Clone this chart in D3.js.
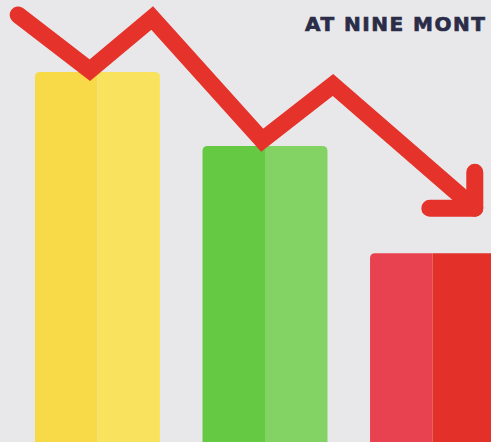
<!DOCTYPE html>
<html>
<head>
<meta charset="utf-8">
<script src="https://cdn.jsdelivr.net/npm/d3@7"></script>
<style>
  html, body { margin: 0; padding: 0; background: #e8e8ea; overflow: hidden; }
  svg { display: block; }
</style>
</head>
<body>
<script>
// Bar categories and their values
const categories = ["first", "second", "third"];
const values = [100, 80, 51];
// Two-tone fill per bar: [left half, right half]
const leftColors = ["#f8da48", "#66c944", "#e84250"];
const rightColors = ["#f9e35e", "#82d364", "#e3312a"];

// Trend line points (x in position units, y in value units)
const trendX = [0.37, 1.83, 3.1, 5.34, 6.78, 9.67];
const trendY = [115.4, 100.5, 114.6, 81.6, 96.5, 63.2];

const title = "AT NINE MONT";

const W = 491, H = 442;

const svg = d3.select("body").append("svg")
  .attr("width", W).attr("height", H);

svg.append("rect").attr("width", W).attr("height", H).attr("fill", "#e8e8ea");

const x = d3.scaleBand().domain(categories).range([35, 495]).paddingInner(0.254).paddingOuter(0);
const y = d3.scaleLinear().domain([0, 100]).range([H, 72]);
const lx = d3.scaleLinear().domain([0, 10]).range([0, W]);

// Bar halves with rounded outer top corners
const r = 5;
function halfPath(x0, x1, top, bottom, roundLeft, roundRight) {
  const p = d3.path();
  p.moveTo(x0, bottom);
  if (roundLeft) { p.lineTo(x0, top + r); p.quadraticCurveTo(x0, top, x0 + r, top); }
  else p.lineTo(x0, top);
  if (roundRight) { p.lineTo(x1 - r, top); p.quadraticCurveTo(x1, top, x1, top + r); }
  else p.lineTo(x1, top);
  p.lineTo(x1, bottom);
  p.closePath();
  return p.toString();
}

const bars = svg.append("g").selectAll("g").data(categories).join("g");
bars.append("path")
  .attr("d", (d, i) => {
    const x0 = x(d), xm = x0 + x.bandwidth() / 2;
    return halfPath(x0, xm, y(values[i]), y(0), true, false);
  })
  .attr("fill", (d, i) => leftColors[i]);
bars.append("path")
  .attr("d", (d, i) => {
    const x0 = x(d), xm = x0 + x.bandwidth() / 2, x1 = x0 + x.bandwidth();
    return halfPath(xm, x1, y(values[i]), y(0), false, true);
  })
  .attr("fill", (d, i) => rightColors[i]);

// Downward trend arrow
const pts = trendX.map((v, i) => [lx(v), y(trendY[i])]);
const line = d3.line();
const arrowColor = "#e5322a";
const strokeW = 17;
svg.append("path")
  .attr("d", line(pts))
  .attr("fill", "none")
  .attr("stroke", arrowColor)
  .attr("stroke-width", strokeW)
  .attr("stroke-linejoin", "miter")
  .attr("stroke-linecap", "round");

const tip = pts[pts.length - 1];
svg.append("path")
  .attr("d", line([[tip[0], tip[1] - 36], tip, [tip[0] - 45, tip[1]]]))
  .attr("fill", "none")
  .attr("stroke", arrowColor)
  .attr("stroke-width", strokeW)
  .attr("stroke-linejoin", "round")
  .attr("stroke-linecap", "round");

// Heading
svg.append("text")
  .attr("x", 305)
  .attr("y", 31)
  .attr("fill", "#2b2c48")
  .attr("stroke", "#2b2c48")
  .attr("stroke-width", 0.7)
  .attr("font-family", "'DejaVu Sans', sans-serif")
  .attr("font-weight", "bold")
  .attr("font-size", 20)
  .attr("letter-spacing", 1.5)
  .text(title);
</script>
</body>
</html>
